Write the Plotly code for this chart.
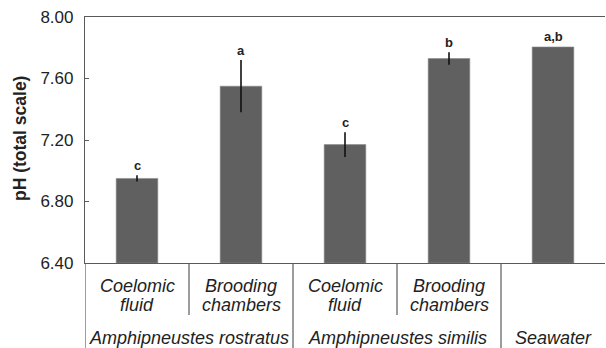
import plotly.graph_objects as go

# ---- data ----
tissues = ["Coelomic fluid", "Brooding chambers", "Coelomic fluid", "Brooding chambers", ""]
ph_mean = [6.95, 7.55, 7.17, 7.73, 7.805]
ph_err = [0.02, 0.17, 0.08, 0.04, 0.0]
sig_letters = ["c", "a", "c", "b", "a,b"]
groups = ["Amphipneustes rostratus", "Amphipneustes similis", "Seawater"]
group_centers = [0.5, 2.5, 4.0]
y_ticks = [6.40, 6.80, 7.20, 7.60, 8.00]
short_dividers = [0.5, 2.5]
long_dividers = [1.5, 3.5]

FONT = "Liberation Sans, Arial, sans-serif"
TXT = "#222222"
LINE = "#5a5a5a"

x = list(range(len(ph_mean)))

fig = go.Figure()
fig.add_trace(go.Bar(
    x=x, y=[v - 6.4 for v in ph_mean], base=6.4,
    width=0.4,
    marker=dict(color="#606060", line=dict(color="#8a8a8a", width=0.6)),
    error_y=dict(type="data", array=ph_err, visible=True, color="#111111",
                 thickness=1.6, width=0),
    hoverinfo="skip",
))

H = 246.0
ann = []
for i, (v, e, s) in enumerate(zip(ph_mean, ph_err, sig_letters)):
    ann.append(dict(x=i, y=v + e, xref="x", yref="y", text=s, showarrow=False,
                    yanchor="middle", yshift=10,
                    font=dict(family=FONT, size=13, color=TXT, weight="bold")))

def py(pix):
    return (263 - pix) / H

for i, t in enumerate(tissues):
    if not t:
        continue
    w1, w2 = t.split(" ")
    ann.append(dict(x=i, y=py(285.5), xref="x", yref="paper", text=w1, showarrow=False,
                    yanchor="middle", font=dict(family=FONT, size=18, color=TXT, style="italic")))
    ann.append(dict(x=i, y=py(304.5), xref="x", yref="paper", text=w2, showarrow=False,
                    yanchor="middle", font=dict(family=FONT, size=18, color=TXT, style="italic")))

for g, c in zip(groups, group_centers):
    ann.append(dict(x=c, y=py(337.5), xref="x", yref="paper", text=g, showarrow=False,
                    yanchor="middle", font=dict(family=FONT, size=18, color=TXT, style="italic")))

ann.append(dict(x=(20 - 85) / 520.0, y=py(139), xref="paper", yref="paper",
                text="pH (total scale)", textangle=-90, showarrow=False,
                xanchor="center", yanchor="middle",
                font=dict(family=FONT, size=17.5, color=TXT, weight="bold")))

shapes = []
for d in short_dividers:
    shapes.append(dict(type="line", xref="x", yref="paper", x0=d, x1=d,
                       y0=0, y1=py(315), line=dict(color=LINE, width=1.2)))
for d in long_dividers:
    shapes.append(dict(type="line", xref="x", yref="paper", x0=d, x1=d,
                       y0=0, y1=py(349), line=dict(color=LINE, width=1.2)))
shapes.append(dict(type="line", xref="x", yref="paper", x0=-0.5, x1=-0.5,
                   y0=0, y1=py(349), line=dict(color=LINE, width=1.2)))

fig.update_layout(
    width=606, height=348,
    margin=dict(l=85, r=1, t=17, b=85),
    paper_bgcolor="white", plot_bgcolor="white",
    showlegend=False,
    annotations=ann, shapes=shapes,
    xaxis=dict(range=[-0.5, 4.5], showticklabels=False, ticks="",
               showline=True, linecolor=LINE, linewidth=1.2, mirror=True,
               showgrid=False, zeroline=False, fixedrange=True),
    yaxis=dict(range=[6.4, 8.0], tickvals=y_ticks,
               ticktext=[f"{v:.2f}" for v in y_ticks],
               ticks="inside", ticklen=4, tickcolor=LINE,
               ticklabelstandoff=7,
               showline=True, linecolor=LINE, linewidth=1.2,
               showgrid=False, zeroline=False,
               tickfont=dict(family=FONT, size=17, color=TXT), fixedrange=True),
)

fig.write_html(
    "out.html",
    config={"displayModeBar": False},
    post_script="document.body.style.margin='0';document.body.style.overflow='hidden';",
)
